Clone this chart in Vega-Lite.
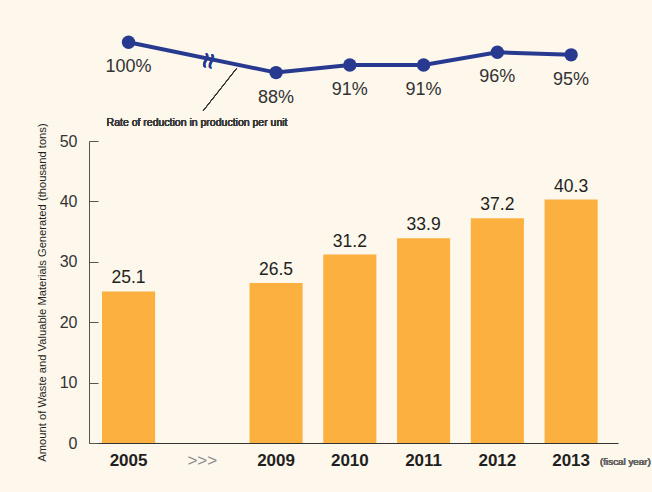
{
  "$schema": "https://vega.github.io/schema/vega-lite/v6.json",
  "autosize": {"type": "none"},
  "width": 529,
  "height": 302,
  "padding": {"left": 89, "top": 141, "right": 34, "bottom": 49},
  "background": "#FDF7EC",
  "config": {"view": {"stroke": null}, "font": "Liberation Sans"},
  "datasets": {
    "amounts": [
      {"year": "2005", "amount": 25.1},
      {"year": "2009", "amount": 26.5},
      {"year": "2010", "amount": 31.2},
      {"year": "2011", "amount": 33.9},
      {"year": "2012", "amount": 37.2},
      {"year": "2013", "amount": 40.3}
    ],
    "rates": [
      {"year": "2005", "rate": 100, "label": "100%"},
      {"year": "2009", "rate": 88, "label": "88%"},
      {"year": "2010", "rate": 91, "label": "91%"},
      {"year": "2011", "rate": 91, "label": "91%"},
      {"year": "2012", "rate": 96, "label": "96%"},
      {"year": "2013", "rate": 95, "label": "95%"}
    ]
  },
  "encoding": {
    "x": {
      "field": "year",
      "type": "nominal",
      "sort": null,
      "scale": {
        "domain": ["2005", ">>>", "2009", "2010", "2011", "2012", "2013"],
        "paddingInner": 0.28,
        "paddingOuter": 0.226,
        "align": 0.39
      },
      "axis": {
        "title": null,
        "labelAngle": 0,
        "ticks": false,
        "labelPadding": 9,
        "labelFontSize": 17,
        "labelFontWeight": {"condition": {"test": "datum.value == '>>>'", "value": "normal"}, "value": "bold"},
        "labelColor": {"condition": {"test": "datum.value == '>>>'", "value": "#8a8a8a"}, "value": "#231F20"},
        "domainColor": "#333333",
        "domainWidth": 1.2
      }
    }
  },
  "layer": [
    {
      "data": {"name": "amounts"},
      "layer": [
        {
          "mark": {"type": "bar", "color": "#FBB040"},
          "encoding": {
            "y": {
              "field": "amount",
              "type": "quantitative",
              "scale": {"domain": [0, 50], "nice": false},
              "axis": {
                "title": "Amount of Waste and Valuable Materials Generated (thousand tons)",
                "titleFont": "Liberation Sans",
                "titleFontSize": 11.2,
                "titleFontWeight": "normal",
                "titleColor": "#231F20",
                "titlePadding": 12,
                "values": [0, 10, 20, 30, 40, 50],
                "grid": false,
                "tickSize": -9,
                "tickColor": "#555555",
                "domainColor": "#555555",
                "labelPadding": 21,
                "labelFontSize": 16,
                "labelColor": "#333333"
              }
            }
          }
        },
        {
          "mark": {"type": "text", "baseline": "alphabetic", "dy": -8, "fontSize": 17.5, "color": "#231F20"},
          "encoding": {
            "y": {"field": "amount", "type": "quantitative"},
            "text": {"field": "amount", "type": "quantitative", "format": ".1f"}
          }
        },
        {
          "mark": {"type": "text", "align": "left", "baseline": "alphabetic", "dx": 29, "dy": 22, "fontSize": 9.8, "fontWeight": "normal", "font": "Liberation Sans", "color": "#666666"},
          "encoding": {
            "x": {"datum": "2013"},
            "y": {"datum": 0, "type": "quantitative"},
            "text": {"value": "(fiscal year)"}
          }
        }
      ]
    },
    {
      "data": {"name": "rates"},
      "layer": [
        {
          "mark": {"type": "line", "color": "#283A90", "strokeWidth": 4},
          "encoding": {
            "y": {"field": "rate", "type": "quantitative", "scale": {"domain": [-58.2, 61], "nice": false, "zero": false}, "axis": null}
          }
        },
        {
          "mark": {"type": "point", "filled": true, "shape": "circle", "size": 180, "color": "#283A90", "opacity": 1},
          "encoding": {
            "y": {"field": "rate", "type": "quantitative"}
          }
        },
        {
          "mark": {"type": "text", "baseline": "alphabetic", "dy": 30, "fontSize": 18, "color": "#333333"},
          "encoding": {
            "y": {"field": "rate", "type": "quantitative"},
            "text": {"field": "label"}
          }
        },
        {
          "mark": {"type": "text", "angle": 100, "fontSize": 28, "dx": -1, "dy": -5, "color": "#283A90"},
          "encoding": {
            "x": {"datum": ">>>"},
            "y": {"datum": 92.6, "type": "quantitative"},
            "text": {"value": "≈"}
          }
        },
        {
          "mark": {"type": "rule", "color": "#333333", "strokeWidth": 0.8, "xOffset": 1, "x2Offset": 34.4},
          "encoding": {
            "x": {"datum": ">>>"},
            "x2": {"datum": ">>>"},
            "y": {"datum": 73.0, "type": "quantitative"},
            "y2": {"datum": 89.7}
          }
        },
        {
          "mark": {"type": "text", "align": "left", "baseline": "alphabetic", "dx": -22, "fontSize": 10.5, "fontWeight": "normal", "font": "Liberation Sans", "color": "#3a3a3a"},
          "encoding": {
            "x": {"datum": "2005"},
            "y": {"datum": 67.0, "type": "quantitative"},
            "text": {"value": "Rate of reduction in production per unit"}
          }
        }
      ]
    }
  ],
  "resolve": {"scale": {"y": "independent"}}
}
